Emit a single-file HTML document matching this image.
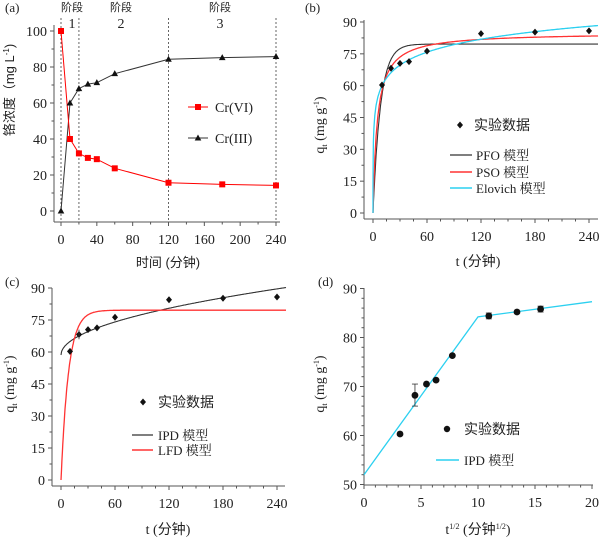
<!DOCTYPE html>
<html><head><meta charset="utf-8"><style>
body{margin:0;background:#fff;width:600px;height:537px;overflow:hidden}
svg{display:block}
text{font-family:"Liberation Serif","Noto Serif CJK SC","Noto Sans CJK SC",serif;fill:#222}
.cn{font-family:"Liberation Sans","Noto Sans CJK SC",sans-serif}
</style></head><body>
<svg id="s" width="600" height="537" xmlns="http://www.w3.org/2000/svg"></svg>
<script>
const S=document.getElementById('s');let h='';
function L(x1,y1,x2,y2,c,w,extra){h+=`<line x1="${x1}" y1="${y1}" x2="${x2}" y2="${y2}" stroke="${c}" stroke-width="${w}" ${extra||''}/>`;}
function T(x,y,t,o){o=o||{};h+=`<text x="${x}" y="${y}" font-size="${o.fs||14}" text-anchor="${o.a||'middle'}" ${o.cls?'class="'+o.cls+'"':''} ${o.tr?'transform="'+o.tr+'"':''}>${t}</text>`;}
function P(pts,c,w){h+=`<polyline fill="none" stroke="${c}" stroke-width="${w||1.2}" points="${pts.map(p=>p[0].toFixed(1)+','+p[1].toFixed(1)).join(' ')}"/>`;}
function axes(c){
 const X=v=>c.x0+(v-c.xa)*c.xs, Y=v=>c.y0-(v-c.ya)*c.ys;
 L(c.ax,c.by,c.xe,c.by,'#555',1);L(c.ax,c.by,c.ax,c.ty,'#555',1);
 for(let v=c.xa;v<=c.xb+1e-9;v+=c.xmin){const maj=Math.abs(v/c.xmaj-Math.round(v/c.xmaj))<1e-6;L(X(v),c.by,X(v),c.by+(maj?4:2.5),'#555',1);if(maj)T(X(v),c.by+22,+v.toFixed(2));}
 for(let v=c.ya;v<=c.yb+1e-9;v+=c.ymin){const maj=Math.abs((v-c.ya)/c.ymaj-Math.round((v-c.ya)/c.ymaj))<1e-6;L(c.ax,Y(v),c.ax-(maj?4:2.5),Y(v),'#555',1);if(maj)T(c.ax-7,Y(v)+5,+v.toFixed(2),{a:'end'});}
 return [X,Y];
}
function dia(x,y){h+=`<path d="M${x} ${y-3.5}L${x+3} ${y}L${x} ${y+3.5}L${x-3} ${y}Z" fill="#111"/>`;}
// (a)
let [X,Y]=axes({x0:61,xa:0,xs:215/240,y0:211,ya:0,ys:1.8,ax:54,by:222,xe:280,ty:25,xb:240,yb:100,xmaj:40,xmin:20,ymaj:20,ymin:10});
[0,20,120,240].forEach(v=>L(X(v),18,X(v),222,'#666',1,'stroke-dasharray="2,2"'));
const t=[0,10,20,30,40,60,120,180,240];
const c6=[100,40,32,29.5,28.8,23.7,15.7,14.8,14.2],c3=[0,60,68,70.5,71.3,76.3,84.3,85.2,85.8];
P(t.map((v,i)=>[X(v),Y(c3[i])]),'#333',1);P(t.map((v,i)=>[X(v),Y(c6[i])]),'#f00',1);
t.forEach((v,i)=>{h+=`<rect x="${X(v)-3}" y="${Y(c6[i])-3}" width="6" height="6" fill="#f00"/>`;const x=X(v),y=Y(c3[i]);h+=`<path d="M${x} ${y-3.5}L${x+3.3} ${y+2.5}L${x-3.3} ${y+2.5}Z" fill="#111"/>`;});
T(5,12,'(a)',{a:'start',fs:13});
[[72,'1'],[121,'2'],[220,'3']].forEach(([x,n])=>{T(x,11,'阶段',{fs:11,cls:'cn'});T(x,28,n,{fs:14});});
L(188,107,208,107,'#f00',1);h+=`<rect x="195" y="104" width="6" height="6" fill="#f00"/>`;T(215,112,'Cr(VI)',{a:'start',fs:14});
L(188,138,208,138,'#333',1);h+=`<path d="M198 134.5L201.3 140.5L194.7 140.5Z" fill="#111"/>`;T(215,143,'Cr(III)',{a:'start',fs:14});
T(14,90,'铬浓度（mg L<tspan font-size="8" dy="-5">-1</tspan><tspan dy="5">)</tspan>',{tr:'rotate(-90 14 90)',cls:'cn',fs:13});
T(168,267,'时间 (分钟)',{cls:'cn',fs:13});
// (b)
[X,Y]=axes({x0:373,xa:0,xs:216/240,y0:213,ya:0,ys:191/90,ax:364,by:219,xe:598,ty:20,xb:240,yb:90,xmaj:60,xmin:15,ymaj:15,ymin:7.5});
const tt=[];for(let v=0;v<=250;v+=0.5)tt.push(v);
P(tt.map(v=>[X(v),Y(79.6*(1-Math.exp(-0.12*v)))]),'#333',1.1);
P(tt.map(v=>[X(v),Y(85*85*0.0025*v/(1+85*0.0025*v))]),'#f33',1.3);
const te=[0,0.002,0.01,0.03,0.1,0.2].concat(tt.filter(v=>v>0.2));
P(te.map(v=>[X(v),Y(Math.max(0,8.8*Math.log(1+91.5*v)))]),'#2cd0f0',1.3);
const q=[60.3,68.2,70.5,71.3,76.3,84.5,85.2,85.8];const tq=[10,20,30,40,60,120,180,240];
tq.forEach((v,i)=>dia(X(v),Y(q[i])));
T(305,12,'(b)',{a:'start',fs:13});
dia(460,125);T(474,130,'实验数据',{a:'start',cls:'cn',fs:14});
L(450,155,472,155,'#333',1.2);T(476,160,'PFO 模型',{a:'start',fs:13});
L(450,172,472,172,'#f33',1.5);T(476,177,'PSO 模型',{a:'start',fs:13});
L(450,188,472,188,'#2cd0f0',1.5);T(476,193,'Elovich 模型',{a:'start',fs:13});
T(324,125,'q<tspan font-size="8" dy="3">t</tspan><tspan dy="-3"> (mg g</tspan><tspan font-size="8" dy="-5">-1</tspan><tspan dy="5">)</tspan>',{tr:'rotate(-90 324 125)'});
T(478,266,'t (<tspan class="cn">分钟</tspan>)',{});
// (c)
[X,Y]=axes({x0:61,xa:0,xs:0.9,y0:480,ya:0,ys:192/90,ax:52,by:486,xe:285,ty:288,xb:240,yb:90,xmaj:60,xmin:15,ymaj:15,ymin:7.5});
P(tt.map(v=>[X(v),Y(58.6+2.0*Math.sqrt(v))]),'#333',1.1);
P(tt.map(v=>[X(v),Y(79.6*(1-Math.exp(-0.12*v)))]),'#f33',1.3);
tq.forEach((v,i)=>dia(X(v),Y(q[i])));
L(X(20),Y(70.5),X(20),Y(66),'#333',0.8);
T(5,286,'(c)',{a:'start',fs:13});
dia(143,402);T(158,407,'实验数据',{a:'start',cls:'cn',fs:14});
L(132,435,153,435,'#333',1.2);T(158,440,'IPD 模型',{a:'start',fs:13});
L(132,450,153,450,'#f33',1.5);T(158,455,'LFD 模型',{a:'start',fs:13});
T(14,384,'q<tspan font-size="8" dy="3">t</tspan><tspan dy="-3"> (mg g</tspan><tspan font-size="8" dy="-5">-1</tspan><tspan dy="5">)</tspan>',{tr:'rotate(-90 14 384)'});
T(168,534,'t (<tspan class="cn">分钟</tspan>)',{});
// (d)
[X,Y]=axes({x0:364,xa:0,xs:228/20,y0:484.5,ya:50,ys:196/40,ax:364,by:485,xe:593,ty:288,xb:20,yb:90,xmaj:5,xmin:1,ymaj:10,ymin:2});
P([[X(0),Y(52)],[X(10),Y(84.2)],[X(20),Y(87.3)]],'#2cd0f0',1.3);
const sx=[3.16,4.47,5.48,6.32,7.75,10.95,13.42,15.49],sq=[60.3,68.2,70.5,71.3,76.3,84.4,85.2,85.8];
L(X(4.47),Y(70.5),X(4.47),Y(66),'#333',0.8);L(X(4.47)-3,Y(70.5),X(4.47)+3,Y(70.5),'#333',0.8);L(X(4.47)-3,Y(66),X(4.47)+3,Y(66),'#333',0.8);
[[10.95,85,83.8],[15.49,86.4,85.2]].forEach(([a,b,c])=>{L(X(a),Y(b),X(a),Y(c),'#333',0.8);L(X(a)-3,Y(b),X(a)+3,Y(b),'#333',0.8);L(X(a)-3,Y(c),X(a)+3,Y(c),'#333',0.8);});
sx.forEach((v,i)=>h+=`<circle cx="${X(v)}" cy="${Y(sq[i])}" r="3.4" fill="#111"/>`);
T(318,286,'(d)',{a:'start',fs:13});
h+=`<circle cx="447" cy="429" r="3.2" fill="#111"/>`;T(464,434,'实验数据',{a:'start',cls:'cn',fs:14});
L(436,460,459,460,'#2cd0f0',1.5);T(464,465,'IPD 模型',{a:'start',fs:13});
T(324,384,'q<tspan font-size="8" dy="3">t</tspan><tspan dy="-3"> (mg g</tspan><tspan font-size="8" dy="-5">-1</tspan><tspan dy="5">)</tspan>',{tr:'rotate(-90 324 384)'});
T(478,534,'t<tspan font-size="8" dy="-5">1/2</tspan><tspan dy="5"> (</tspan><tspan class="cn">分钟</tspan><tspan font-size="8" dy="-5">1/2</tspan><tspan dy="5">)</tspan>',{});
S.innerHTML=h;
</script>
</body></html>
